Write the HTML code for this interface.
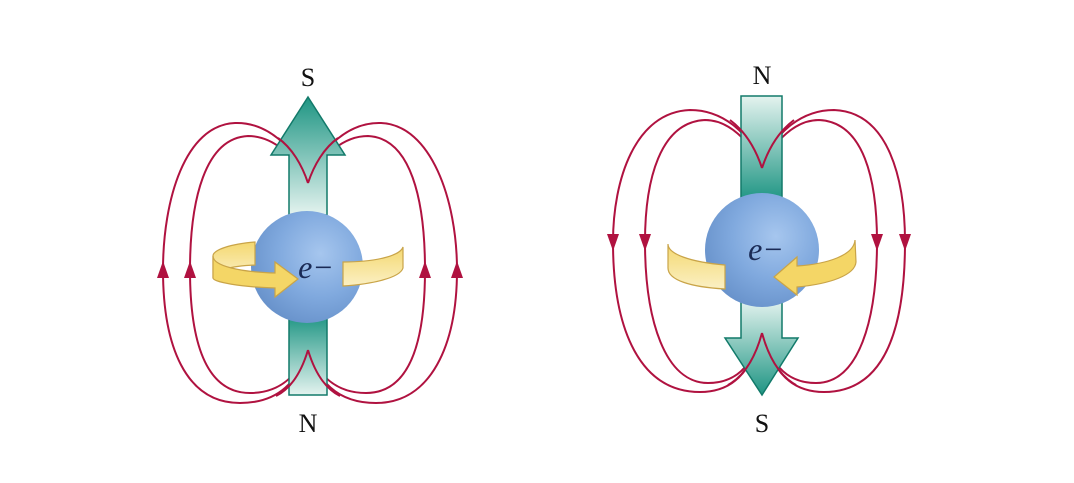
<!DOCTYPE html>
<html><head><style>html,body{margin:0;padding:0;background:#fff;}svg{display:block}</style></head>
<body>
<svg width="1074" height="483" viewBox="0 0 1074 483" xmlns="http://www.w3.org/2000/svg">
<defs>
<linearGradient id="tu" x1="0" y1="0" x2="0" y2="1"><stop offset="0" stop-color="#1e9583"/><stop offset="1" stop-color="#e4f3ef"/></linearGradient>
<linearGradient id="td" x1="0" y1="1" x2="0" y2="0"><stop offset="0" stop-color="#1e9583"/><stop offset="1" stop-color="#e4f3ef"/></linearGradient>
<radialGradient id="sp" cx="0.62" cy="0.38" r="0.7"><stop offset="0" stop-color="#a6c6ee"/><stop offset="0.55" stop-color="#80a9de"/><stop offset="1" stop-color="#6690c9"/></radialGradient>
<linearGradient id="yl" x1="0" y1="0" x2="0" y2="1"><stop offset="0" stop-color="#f4d870"/><stop offset="1" stop-color="#fbf0c4"/></linearGradient>
</defs>
<g fill="none" stroke="#b01240" stroke-width="2">
<path d="M308,183 C295,145 265,122 235,123 C185,125 163,200 163,270 C163,345 185,403 240,403 C280,403 298,380 308,350"/>
<path d="M308,183 C295,155 272,136 248,136 C205,138 190,200 190,270 C190,340 205,393 250,393 C283,393 299,372 308,350"/>
<path d="M308,183 C321,145 351,122 381,123 C431,125 457,200 457,270 C457,345 431,403 376,403 C336,403 318,380 308,350"/>
<path d="M308,183 C321,155 344,136 368,136 C411,138 425,200 425,270 C425,340 411,393 366,393 C333,393 317,372 308,350"/>
<path d="M762,168 C750,130 720,110 690,110 C635,112 613,180 613,242 C613,330 640,392 700,392 C740,392 753,362 762,333"/>
<path d="M762,168 C750,140 728,120 705,120 C660,122 645,180 645,242 C645,320 665,383 708,383 C742,383 754,358 762,333"/>
<path d="M762,168 C774,130 804,110 834,110 C889,112 905,180 905,242 C905,330 884,392 824,392 C784,392 771,362 762,333"/>
<path d="M762,168 C774,140 796,120 819,120 C864,122 877,180 877,242 C877,320 859,383 816,383 C782,383 770,358 762,333"/>
</g>
<g fill="#b01240">
<path d="M163,261 l-6,17 h12z"/><path d="M190,261 l-6,17 h12z"/><path d="M425,261 l-6,17 h12z"/><path d="M457,261 l-6,17 h12z"/>
<path d="M613,251 l-6,-17 h12z"/><path d="M645,251 l-6,-17 h12z"/><path d="M877,251 l-6,-17 h12z"/><path d="M905,251 l-6,-17 h12z"/>
</g>
<path d="M308,97 L345,155 H327 V215 H289 V155 H271 Z" fill="url(#tu)" stroke="#127a6a" stroke-width="1.5"/>
<rect x="289" y="315" width="38" height="80" fill="url(#tu)" stroke="#127a6a" stroke-width="1.5"/>
<rect x="741" y="96" width="41" height="105" fill="url(#td)" stroke="#127a6a" stroke-width="1.5"/>
<path d="M741,300 H782 V338 H798 L762,395 L725,338 H741 Z" fill="url(#td)" stroke="#127a6a" stroke-width="1.5"/>
<g fill="none" stroke="#b01240" stroke-width="2">
<path d="M308,183 C302,165 292,148 278,138"/><path d="M308,183 C314,165 324,148 338,138"/>
<path d="M308,350 C302,370 292,388 276,396"/><path d="M308,350 C314,370 324,388 340,396"/>
<path d="M762,168 C756,150 746,132 730,120"/><path d="M762,168 C768,150 778,132 794,120"/>
<path d="M762,333 C756,355 746,375 728,385"/><path d="M762,333 C768,355 778,375 796,385"/>
</g>
<!-- left sphere + ring -->
<circle cx="307" cy="267" r="56" fill="url(#sp)"/>
<path d="M255,242 C230,244 213,250 213,256 L213,278 C213,270 232,266 255,265 Z" fill="url(#yl)" stroke="#c9a448" stroke-width="1.2"/>
<path d="M213,256 C213,266 240,272 275,273 L275,262 L298,279 L275,297 L275,288 C240,287 213,282 213,278 Z" fill="#f4d666" stroke="#c9a448" stroke-width="1.2"/>
<path d="M343,262 C375,262 400,256 403,247 L403,268 C400,278 372,284 343,286 Z" fill="url(#yl)" stroke="#c9a448" stroke-width="1.2"/>
<text x="316" y="278" font-family="Liberation Serif, serif" font-style="italic" font-size="32" fill="#1a2a55" text-anchor="middle">e−</text>
<!-- right sphere + ring -->
<circle cx="762" cy="250" r="57" fill="url(#sp)"/>
<path d="M668,244 C668,254 690,262 725,265 V289 C690,287 668,280 668,268 Z" fill="url(#yl)" stroke="#c9a448" stroke-width="1.2"/>
<path d="M855,240 C854,255 828,264 797,266 L797,257 L774,277 L797,295 L797,287 C830,284 855,275 856,262 Z" fill="#f4d666" stroke="#c9a448" stroke-width="1.2"/>
<text x="766" y="260" font-family="Liberation Serif, serif" font-style="italic" font-size="32" fill="#1a2a55" text-anchor="middle">e−</text>
<g font-family="Liberation Serif, serif" font-size="26" fill="#111" text-anchor="middle">
<text x="308" y="86">S</text><text x="308" y="432">N</text>
<text x="762" y="84">N</text><text x="762" y="432">S</text>
</g>
</svg>
</body></html>
